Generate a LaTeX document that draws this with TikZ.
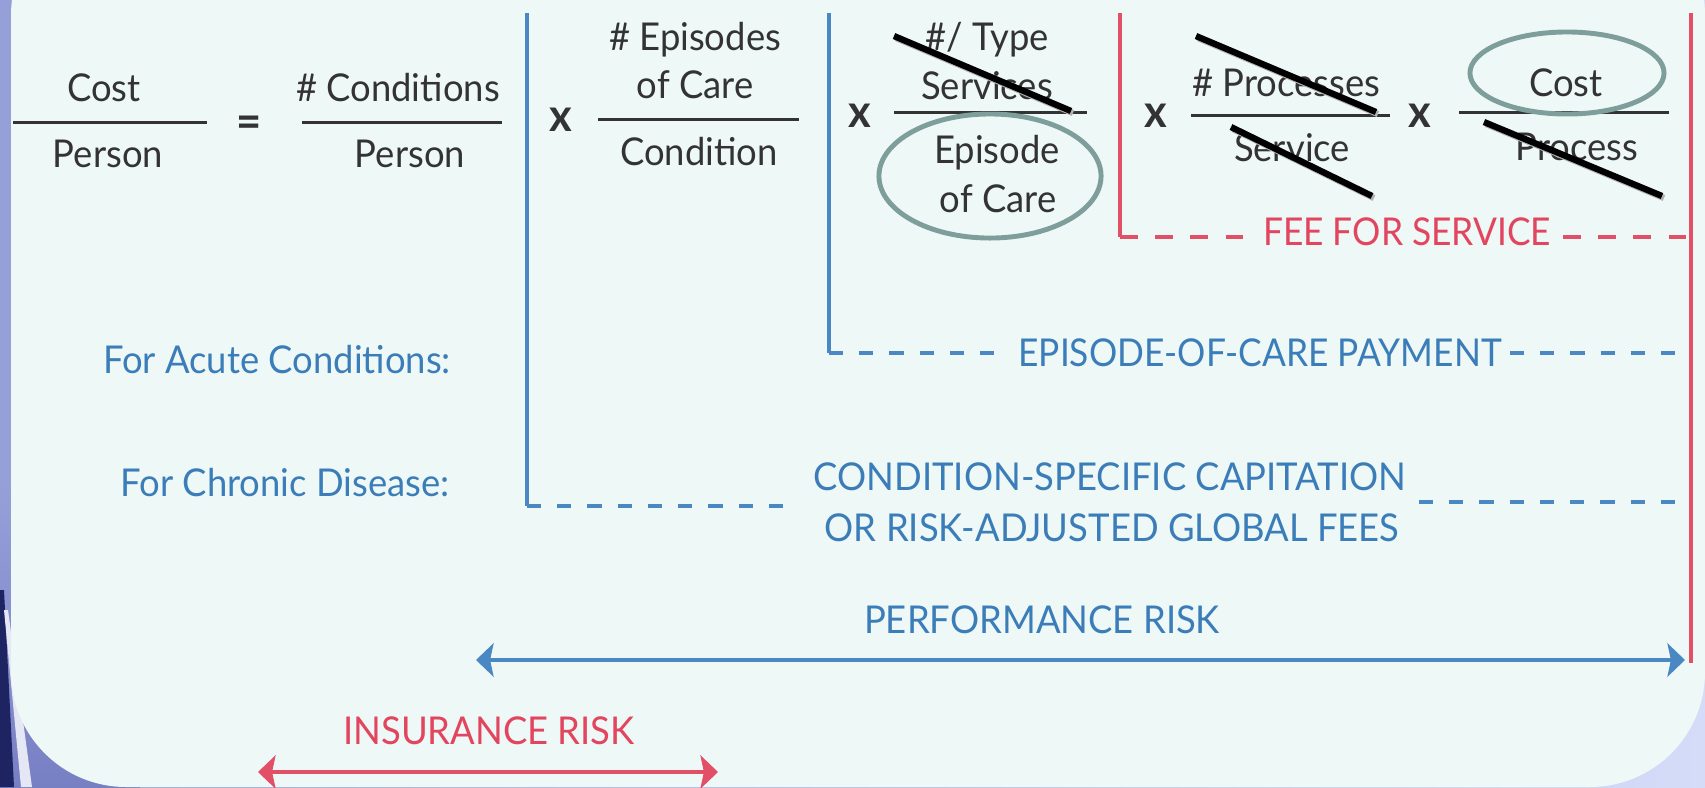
\documentclass[tikz,border=0pt]{standalone}
\usepackage{fontspec}
\setmainfont[FakeStretch=0.95]{Lato}
\usetikzlibrary{arrows.meta,shapes.geometric}
\definecolor{bgc}{HTML}{EEF8F7}
\definecolor{ink}{HTML}{333333}
\definecolor{bluetxt}{HTML}{3B7DB8}
\definecolor{blueln}{HTML}{4A88C4}
\definecolor{redtxt}{HTML}{E2455E}
\definecolor{redln}{HTML}{E25068}
\definecolor{ringc}{HTML}{7E9E9C}
\definecolor{lavL}{HTML}{96A0D8}
\definecolor{lavR}{HTML}{D4DCF8}
\definecolor{navy}{HTML}{1E2462}
\definecolor{midblue}{HTML}{7880C4}
\begin{document}
\begin{tikzpicture}[x=0.01cm,y=-0.01cm,
  every node/.style={inner sep=0pt, outer sep=0pt},
  tb/.style={font=\fontsize{10.9}{12}\selectfont, text=ink, anchor=base},
  bt/.style={font=\fontsize{10.9}{12}\selectfont, text=bluetxt, anchor=base},
  rt/.style={font=\fontsize{10.9}{12}\selectfont, text=redtxt, anchor=base},
  op/.style={font=\bfseries\fontsize{13}{14}\selectfont, text=ink},
  frac/.style={draw=ink, line width=0.85pt},
  bline/.style={draw=blueln, line width=0.9pt},
  rline/.style={draw=redln, line width=0.9pt},
  bdash/.style={bline, dash pattern=on 4pt off 4.6pt},
  rdash/.style={rline, dash pattern=on 5pt off 5pt},
  ring/.style={draw=ringc, line width=1.4pt, ellipse},
  strike/.style={line width=1.8pt, draw=black},
  strikesh/.style={line width=1.8pt, draw=gray!60},
  riskarrow/.style={>={Stealth[length=5pt, width=9.5pt, inset=1pt]}, <->},
]
\useasboundingbox (0,0) rectangle (1705,787);
% outer slide background
\shade[left color=lavL, right color=lavR] (0,0) rectangle (1705,787);
\shade[top color=lavL, bottom color=midblue] (0,480) rectangle (140,787);
\fill[navy] (0,590) -- (4,590) -- (14,787) -- (0,787) -- cycle;
\fill[white!75!lavL] (4,610) -- (8,610) -- (32,787) -- (21,787) -- cycle;
% content panel
\fill[bgc, rounded corners=1.15cm] (11,-100) -- (11,787) -- (1705,787) -- (1705,-100) -- cycle;

% ---------- fractions ----------
\node[tb] (c1n) at (104,101) {Cost};
\node[tb] (c1d) at (108,167) {Person};
\coordinate (f1a) at (13,122); \coordinate (f1b) at (207,122);
\draw[frac] (f1a) -- (f1b);
\node[op] (eq) at (249,127) {=};

\node[tb] (c2n) at (398,101) {\# Conditions};
\node[tb] (c2d) at (410,167) {Person};
\coordinate (f2a) at (302,122); \coordinate (f2b) at (502,122);
\draw[frac] (f2a) -- (f2b);

\node[op] (x1) at (561,120) {x};
\node[tb] (c3n1) at (695,50) {\# Episodes};
\node[tb] (c3n2) at (695,98) {of Care};
\node[tb] (c3d) at (699,165) {Condition};
\coordinate (f3a) at (598,119); \coordinate (f3b) at (799,119);
\draw[frac] (f3a) -- (f3b);

\node[op] (x2) at (860,116) {x};
\node[tb] (c4n1) at (987,50) {\#/ Type};
\node[tb] (c4n2) at (987,99) {Services};
\node[tb] (c4d1) at (997,163) {Episode};
\node[tb] (c4d2) at (998,212) {of Care};
\coordinate (f4a) at (894,112); \coordinate (f4b) at (1087,112);
\draw[frac] (f4a) -- (f4b);
\node[ring, minimum width=2.22cm, minimum height=1.24cm] (ov1) at (990,176) {};

\node[op] (x3) at (1156,116) {x};
\node[tb] (c5n) at (1286,96) {\# Processes};
\node[tb] (c5d) at (1292,161) {Service};
\coordinate (f5a) at (1191,115); \coordinate (f5b) at (1390,115);
\draw[frac] (f5a) -- (f5b);

\node[op] (x4) at (1420,116) {x};
\node[tb] (c6n) at (1566,96) {Cost};
\node[tb] (c6d) at (1577,160) {Process};
\coordinate (f6a) at (1459,112); \coordinate (f6b) at (1669,112);
\draw[frac] (f6a) -- (f6b);
\node[ring, minimum width=1.94cm, minimum height=0.82cm] (ov2) at (1567,73) {};

% ---------- strike-outs ----------
\coordinate (s1a) at (894,36);   \coordinate (s1b) at (1071,111);
\coordinate (s2a) at (1196,36);  \coordinate (s2b) at (1376,112);
\coordinate (s3a) at (1231,127); \coordinate (s3b) at (1372,196);
\coordinate (s4a) at (1484,122); \coordinate (s4b) at (1662,196);
\foreach \a/\b in {s1a/s1b,s2a/s2b,s3a/s3b,s4a/s4b}{
  \draw[strikesh] ([shift={(2,2)}]\a) -- ([shift={(2,2)}]\b);
  \draw[strike] (\a) -- (\b);
}

% ---------- payment brackets ----------
\node[rt] (ffs) at (1407,245) {\scalebox{0.97}[1]{FEE FOR SERVICE}};
\coordinate (r1t) at (1120,13); \coordinate (r1b) at (1120,237);
\coordinate (r1e) at (1248,237); \coordinate (r1f) at (1563,237);
\coordinate (r2t) at (1691,13); \coordinate (r2b) at (1691,663);
\coordinate (r1g) at (1691,237);
\draw[rline] (r1t) -- (r1b);
\draw[rdash] (r1b) -- (r1e);
\draw[rdash] (r1f) -- (r1g);
\draw[rline] (r2t) -- (r2b);

\node[bt] (acu) at (277,373) {For Acute Conditions:};
\node[bt] (eoc) at (1260,366) {\scalebox{0.97}[1]{EPISODE-OF-CARE PAYMENT}};
\coordinate (b2t) at (829,13); \coordinate (b2b) at (829,353);
\coordinate (b2e) at (1006,353); \coordinate (b2f) at (1510,353);
\coordinate (b2g) at (1689,353);
\draw[bline] (b2t) -- (b2b);
\draw[bdash] (b2b) -- (b2e);
\draw[bdash] (b2f) -- (b2g);

\node[bt] (chr) at (285,496) {For Chronic Disease:};
\node[bt] (cap1) at (1110,490) {CONDITION-SPECIFIC CAPITATION};
\node[bt] (cap2) at (1112,541) {OR RISK-ADJUSTED GLOBAL FEES};
\coordinate (b1t) at (527,13); \coordinate (b1b) at (527,506);
\coordinate (b1e) at (799,506); \coordinate (b1f) at (1419,502);
\coordinate (b1g) at (1689,502);
\draw[bline] (b1t) -- (b1b);
\draw[bdash] (b1b) -- (b1e);
\draw[bdash] (b1f) -- (b1g);

% ---------- risks ----------
\node[bt] (perf) at (1042,633) {PERFORMANCE RISK};
\coordinate (pa) at (476,660); \coordinate (pb) at (1685,660);
\draw[draw=blueln, line width=1.2pt, riskarrow] (pa) -- (pb);

\node[rt] (ins) at (489,744) {INSURANCE RISK};
\coordinate (ia) at (258,772); \coordinate (ib) at (718,772);
\draw[draw=redln, line width=1.4pt, riskarrow] (ia) -- (ib);
\end{tikzpicture}
\end{document}
